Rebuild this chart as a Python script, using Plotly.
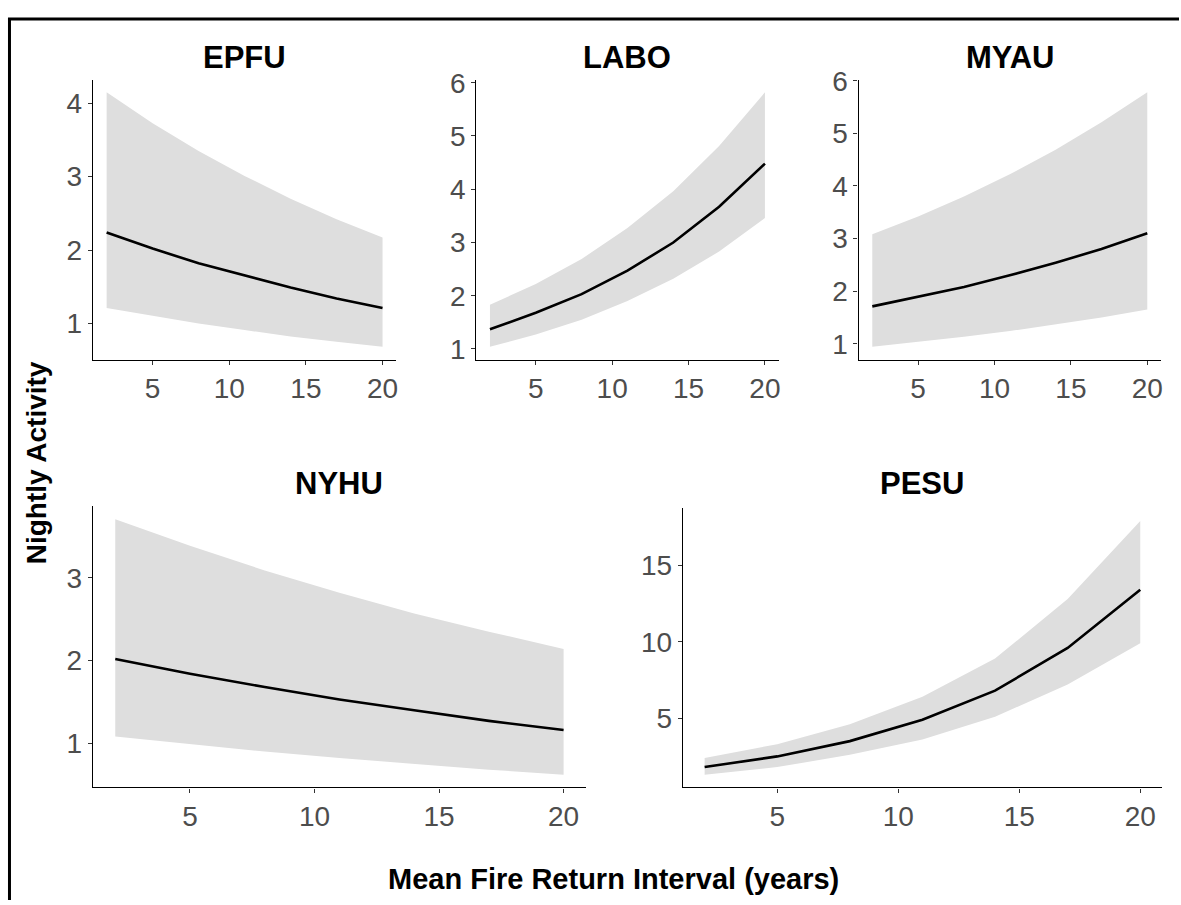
import plotly.graph_objects as go

W, H = 1181, 905

x_vals = [2, 5, 8, 11, 14, 17, 20]
x_ticks = [5, 10, 15, 20]

species = ["EPFU", "LABO", "MYAU", "NYHU", "PESU"]

epfu_mean = [2.24, 2.02, 1.82, 1.65, 1.49, 1.34, 1.21]
epfu_lo = [1.21, 1.10, 1.00, 0.91, 0.82, 0.75, 0.68]
epfu_hi = [4.15, 3.73, 3.35, 3.01, 2.70, 2.42, 2.17]

labo_mean = [1.37, 1.68, 2.03, 2.47, 3.00, 3.67, 4.48]
labo_lo = [1.04, 1.27, 1.55, 1.90, 2.32, 2.83, 3.46]
labo_hi = [1.83, 2.22, 2.69, 3.27, 3.96, 4.81, 5.82]

myau_mean = [1.71, 1.89, 2.08, 2.30, 2.54, 2.80, 3.10]
myau_lo = [0.94, 1.03, 1.13, 1.24, 1.37, 1.50, 1.65]
myau_hi = [3.08, 3.42, 3.80, 4.22, 4.69, 5.21, 5.78]

nyhu_mean = [2.02, 1.84, 1.68, 1.53, 1.40, 1.27, 1.16]
nyhu_lo = [1.08, 0.99, 0.90, 0.82, 0.75, 0.68, 0.62]
nyhu_hi = [3.71, 3.39, 3.09, 2.82, 2.57, 2.35, 2.14]

pesu_mean = [1.8, 2.5, 3.5, 4.9, 6.8, 9.6, 13.4]
pesu_lo = [1.3, 1.8, 2.6, 3.6, 5.1, 7.2, 9.9]
pesu_hi = [2.4, 3.3, 4.6, 6.4, 8.9, 12.8, 17.9]

epfu_yticks = [1, 2, 3, 4]
labo_yticks = [1, 2, 3, 4, 5, 6]
myau_yticks = [1, 2, 3, 4, 5, 6]
nyhu_yticks = [1, 2, 3]
pesu_yticks = [5, 10, 15]

series = {
    "EPFU": (epfu_mean, epfu_lo, epfu_hi, epfu_yticks),
    "LABO": (labo_mean, labo_lo, labo_hi, labo_yticks),
    "MYAU": (myau_mean, myau_lo, myau_hi, myau_yticks),
    "NYHU": (nyhu_mean, nyhu_lo, nyhu_hi, nyhu_yticks),
    "PESU": (pesu_mean, pesu_lo, pesu_hi, pesu_yticks),
}

# panel boxes in pixels: (left, right, top, bottom)
panels = {
    "EPFU": (93, 397, 67, 353),
    "LABO": (477, 780, 67, 353),
    "MYAU": (860, 1163, 67, 353),
    "NYHU": (93, 587, 503, 790),
    "PESU": (684, 1164, 505, 790),
}
title_y = {"EPFU": 44, "LABO": 44, "MYAU": 44, "NYHU": 480, "PESU": 480}

FONT = "Liberation Sans, Arial, sans-serif"
TICK_FONT = dict(family=FONT, size=28, color="#4D4D4D")

fig = go.Figure()
annotations = []
layout_axes = {}

for i, sp in enumerate(species, start=1):
    mean, lo, hi, yt = series[sp]
    xa = "x" if i == 1 else f"x{i}"
    ya = "y" if i == 1 else f"y{i}"
    fig.add_trace(go.Scatter(x=x_vals, y=lo, mode="lines", line=dict(width=0),
                             hoverinfo="skip", showlegend=False, xaxis=xa, yaxis=ya))
    fig.add_trace(go.Scatter(x=x_vals, y=hi, mode="lines", line=dict(width=0),
                             fill="tonexty", fillcolor="rgb(222,222,222)",
                             hoverinfo="skip", showlegend=False, xaxis=xa, yaxis=ya))
    fig.add_trace(go.Scatter(x=x_vals, y=mean, mode="lines",
                             line=dict(color="black", width=2.6),
                             showlegend=False, xaxis=xa, yaxis=ya))
    l, r, t, b = panels[sp]
    xmin, xmax = min(x_vals), max(x_vals)
    xpad = 0.05 * (xmax - xmin)
    ymin, ymax = min(lo), max(hi)
    ypad = 0.05 * (ymax - ymin)
    axis_common = dict(showline=True, linecolor="black", linewidth=1.2,
                       ticks="outside", ticklen=4, tickwidth=1, tickcolor="#333333",
                       showgrid=False, zeroline=False, tickfont=TICK_FONT)
    xkey = "xaxis" if i == 1 else f"xaxis{i}"
    ykey = "yaxis" if i == 1 else f"yaxis{i}"
    layout_axes[xkey] = dict(domain=[l / W, r / W], anchor=ya,
                             range=[xmin - xpad, xmax + xpad],
                             tickvals=x_ticks, ticktext=[str(v) for v in x_ticks],
                             **axis_common)
    layout_axes[ykey] = dict(domain=[1 - b / H, 1 - t / H], anchor=xa,
                             range=[ymin - ypad, ymax + ypad],
                             tickvals=yt, ticktext=[str(v) for v in yt],
                             **axis_common)
    annotations.append(dict(text=f"<b>{sp}</b>", x=(l + r) / 2 / W, y=1 - title_y[sp] / H,
                            xref="paper", yref="paper", xanchor="center", yanchor="middle",
                            showarrow=False, font=dict(family=FONT, size=31, color="black")))

annotations.append(dict(text="<b>Nightly Activity</b>", x=36 / W, y=1 - 458 / H,
                        xref="paper", yref="paper", xanchor="center", yanchor="middle",
                        textangle=-90, showarrow=False,
                        font=dict(family=FONT, size=28, color="black")))
annotations.append(dict(text="<b>Mean Fire Return Interval (years)</b>", x=615 / W, y=1 - 884 / H,
                        xref="paper", yref="paper", xanchor="center", yanchor="middle",
                        showarrow=False, font=dict(family=FONT, size=29, color="black")))

shapes = [
    dict(type="line", xref="paper", yref="paper", x0=8 / W, x1=1, y0=1 - 5 / H, y1=1 - 5 / H,
         line=dict(color="black", width=3)),
    dict(type="line", xref="paper", yref="paper", x0=9.5 / W, x1=9.5 / W, y0=0, y1=1 - 4 / H,
         line=dict(color="black", width=3)),
]

fig.update_layout(width=W, height=H, margin=dict(l=0, r=0, t=0, b=0),
                  paper_bgcolor="white", plot_bgcolor="white",
                  annotations=annotations, shapes=shapes, showlegend=False,
                  **layout_axes)

fig.write_html("out.html")
